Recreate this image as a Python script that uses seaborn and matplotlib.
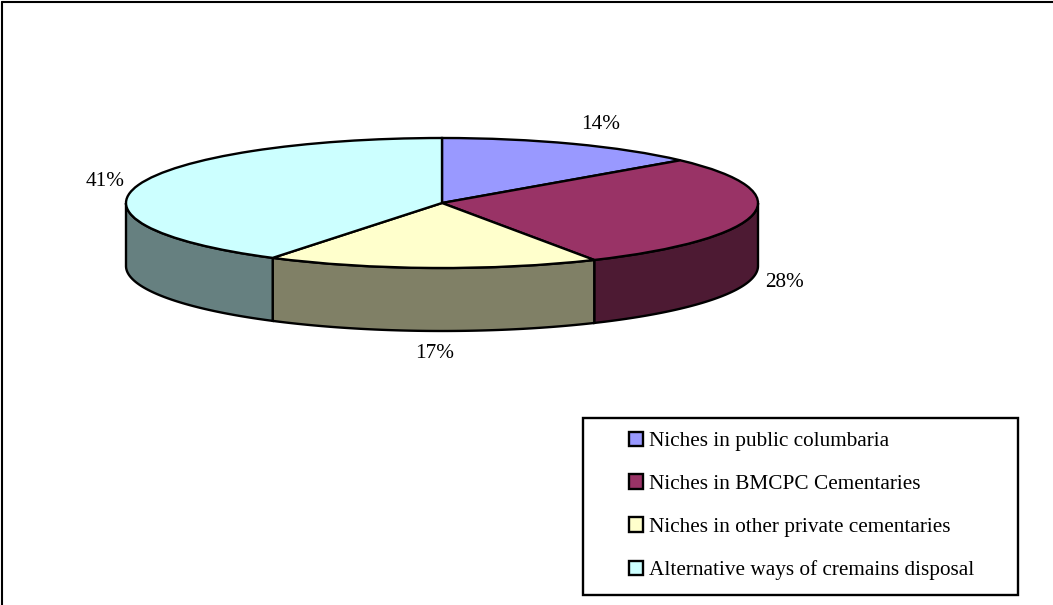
import matplotlib
matplotlib.use('Agg')
import matplotlib.pyplot as plt
import numpy as np
import seaborn as sns
from matplotlib.patches import Patch, Rectangle

categories = ['Niches in public columbaria', 'Niches in BMCPC Cementaries',
              'Niches in other private cementaries', 'Alternative ways of cremains disposal']
# the first two read a little off the round labels on the picture
shares = [13.6, 28.4, 17, 41]
colors = ['#9999FF', '#993366', '#FFFFCC', '#CCFFFF']

sns.set_theme(style='white')
plt.rcParams['font.family'] = ['Liberation Serif', 'DejaVu Serif']

W, H = 1053, 605
CX, CY, RX, RY, DEPTH = 442, 203, 316, 65, 63
LW = 1.7
FS = 15.3
palette = sns.color_palette(colors)


def px(x, y):
    # picture pixels to pie units
    return (x - CX) / RX, (CY - y) / RY


fig = plt.figure(figsize=(W / 100, H / 100), dpi=100)
ax = fig.add_axes([0, 0, 1, 1])

# top of the pie, squashed into an ellipse by the free aspect below
ax.pie(shares, colors=palette, startangle=90, counterclock=False,
       wedgeprops={'edgecolor': 'black', 'linewidth': LW, 'zorder': 3})
ax.set_aspect('auto')
ax.set_xlim(px(0, 0)[0], px(W, 0)[0])
ax.set_ylim(px(0, H)[1], px(0, 0)[1])
ax.set_axis_off()

# side walls, only where a slice faces the viewer
depth = DEPTH / RY
edges = 90 - np.cumsum([0] + shares) * 3.6
for i in range(len(shares)):
    start = edges[i]
    stop = max(edges[i + 1], -180.0)
    start = min(start, 0.0)
    if stop >= start:
        continue
    t = np.radians(np.linspace(start, stop, 80))
    xs = np.concatenate([np.cos(t), np.cos(t[::-1])])
    ys = np.concatenate([np.sin(t), np.sin(t[::-1]) - depth])
    dark = tuple(c * 0.5 for c in palette[i])
    ax.fill(xs, ys, facecolor=dark, edgecolor='black', linewidth=LW, zorder=2)

# data labels
label_pos = [(601, 124), (784, 282), (435, 353), (105, 181)]
for val, (lx, ly) in zip(shares, label_pos):
    x, y = px(lx, ly)
    ax.text(x, y, f'{val:.0f}%', fontsize=FS, color='black', ha='center', va='center')

# legend box
x0, y0 = px(583, 595)
x1, y1 = px(1018, 418)
ax.add_patch(Rectangle((x0, y0), x1 - x0, y1 - y0, facecolor='white',
                       edgecolor='black', linewidth=LW, zorder=4))
handles = [Patch(facecolor=c, edgecolor='black', linewidth=LW) for c in palette]
leg = ax.legend(handles, categories, loc='upper left',
                bbox_to_anchor=(629 / W, 1 - 431.5 / H), bbox_transform=fig.transFigure,
                frameon=False, fontsize=FS, labelcolor='black', borderpad=0, borderaxespad=0,
                handlelength=0.66, handleheight=0.66, handletextpad=0.26,
                labelspacing=1.10)
leg.set_zorder(5)

# chart area border, only top and left fall inside the picture
fig.add_artist(plt.Line2D([2 / W, 2 / W], [0, 1 - 2 / H], color='black', linewidth=1.5))
fig.add_artist(plt.Line2D([2 / W, 1], [1 - 2 / H, 1 - 2 / H], color='black', linewidth=1.5))

fig.savefig('out.png', dpi=100, facecolor='white')
